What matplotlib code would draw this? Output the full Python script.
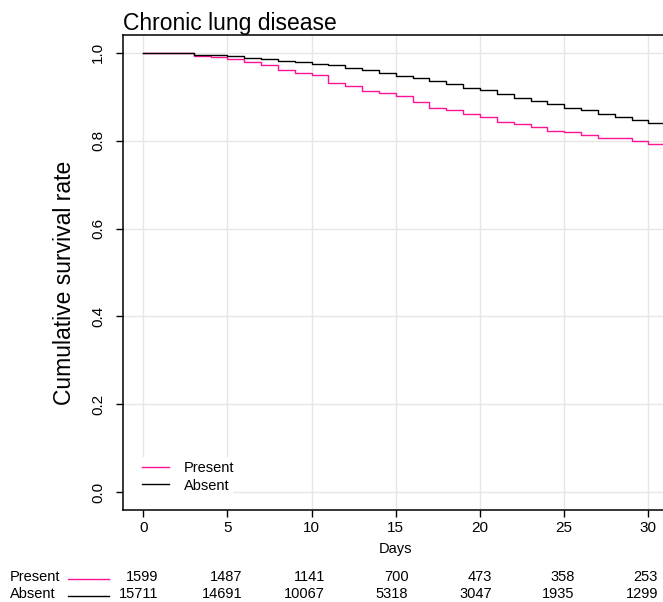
import matplotlib
matplotlib.use("Agg")
import matplotlib.pyplot as plt
import matplotlib.transforms as mtransforms
from matplotlib.patches import Rectangle

plt.rcParams['font.family'] = ['Liberation Sans', 'DejaVu Sans']

# survival estimate at the start of each day (step function, right-continuous)
days = list(range(0, 32))
present = [1.000, 1.000, 0.998, 0.992, 0.989, 0.985, 0.979, 0.972, 0.960, 0.953,
           0.949, 0.932, 0.925, 0.912, 0.908, 0.902, 0.888, 0.874, 0.870, 0.860,
           0.854, 0.842, 0.838, 0.831, 0.822, 0.820, 0.813, 0.806, 0.806, 0.800,
           0.793, 0.793]
absent = [1.000, 1.000, 0.998, 0.995, 0.994, 0.992, 0.987, 0.985, 0.982, 0.978,
          0.974, 0.971, 0.964, 0.960, 0.953, 0.947, 0.942, 0.936, 0.928, 0.919,
          0.914, 0.906, 0.897, 0.889, 0.884, 0.875, 0.870, 0.861, 0.854, 0.846,
          0.841, 0.841]

risk_times = [0, 5, 10, 15, 20, 25, 30]
risk_present = [1599, 1487, 1141, 700, 473, 358, 253]
risk_absent = [15711, 14691, 10067, 5318, 3047, 1935, 1299]

groups = ['Present', 'Absent']
colors = ['#ff1493', 'black']

W, H = 663, 602
fig = plt.figure(figsize=(W / 100, H / 100), dpi=100)
ax = fig.add_axes([123 / W, (H - 510) / H, 545.6 / W, 475 / H])

ax.step(days, present, where='post', color=colors[0], lw=1.0, zorder=3, label=groups[0])
ax.step(days, absent, where='post', color=colors[1], lw=1.0, zorder=3, label=groups[1])

ax.set_xlim(-1.2, 31.2)
ax.set_ylim(-0.04, 1.04)
ax.set_xticks(risk_times)
ax.set_yticks([0.0, 0.2, 0.4, 0.6, 0.8, 1.0])
ax.set_yticklabels(['0.0', '0.2', '0.4', '0.6', '0.8', '1.0'], rotation=90, va='center')
ax.grid(True, color='#e6e6e6', lw=1.0, zorder=0)
ax.set_axisbelow(True)

for s in ['left', 'bottom', 'top']:
    ax.spines[s].set_linewidth(1.1)
ax.spines['right'].set_visible(False)
ax.tick_params(direction='out', length=5, width=1, labelsize=11)
ax.tick_params(axis='x', pad=3)
ax.tick_params(axis='y', pad=8)

ax.set_title('Chronic lung disease', loc='left', fontsize=16.5, pad=2)
ax.set_ylabel('Cumulative survival rate', fontsize=16.5)
ax.yaxis.set_label_coords(-0.086, 0.479)
ax.set_xlabel('Days', fontsize=10.5, labelpad=5)

# white legend background covering the grid
ax.add_patch(Rectangle((0, 0), 0.2016, 0.111, transform=ax.transAxes,
                       facecolor='white', edgecolor='none', zorder=1))
ax.legend(loc='center left', bbox_to_anchor=(0.0348, 0.07), frameon=False,
          borderpad=0, borderaxespad=0, handlelength=1.85, handletextpad=1.0,
          labelspacing=0.25, fontsize=10.5)

# numbers at risk table
trans = mtransforms.blended_transform_factory(ax.transData, fig.transFigure)
rows = [(risk_present, 577), (risk_absent, 594)]
for (vals, ypx), name, col in zip(rows, groups, colors):
    yf = (H - ypx) / H
    fig.text(10 / W, yf, name, fontsize=10.5, ha='left', va='center')
    fig.add_artist(plt.Line2D([68 / W, 109 / W], [yf - 1.5 / H, yf - 1.5 / H],
                              color=col, lw=1.0, transform=fig.transFigure))
    for t, v in zip(risk_times, vals):
        ax_x = t * 0.988 + 0.93
        fig.text(ax_x, yf, str(v), fontsize=10.5, ha='right', va='center',
                 transform=trans)

fig.savefig('out.png', dpi=100, facecolor='white')
